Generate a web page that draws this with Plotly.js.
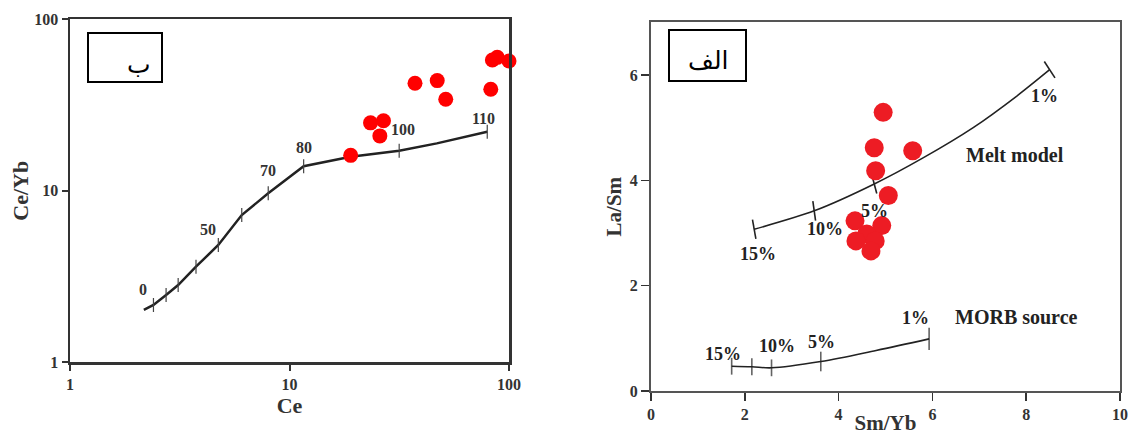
<!DOCTYPE html>
<html>
<head>
<meta charset="utf-8">
<script src="https://cdn.plot.ly/plotly-3.0.1.min.js"></script>
<style>html,body{margin:0;padding:0;background:#fff;}#chart{width:1130px;height:435px;}</style>
</head>
<body>
<div id="chart"></div>
<script>
// ---------- Left panel (ب): Ce vs Ce/Yb (log-log) ----------
const ceSamples   = [19.0, 23.4, 26.8, 25.8, 37.3, 47.1, 51.5, 82.6, 84.0, 88.4, 100];
const ceYbSamples = [16.1, 24.9, 25.6, 20.9, 42.4, 43.9, 34.2, 39.1, 57.9, 60.0, 57.1];

const ceModel   = [2.17, 2.40, 2.74, 3.11, 3.75, 4.74, 6.06, 8.0, 11.6, 19.0, 31.6, 46.9, 79.6];
const ceYbModel = [2.02, 2.16, 2.47, 2.82, 3.61, 4.83, 7.22, 9.67, 13.9, 15.8, 17.1, 18.9, 22.1];

const ceModelTicksX = [2.40, 2.74, 3.11, 3.75, 4.74, 6.06, 8.0, 11.6, 31.6, 79.6];
const ceModelTicksY = [2.16, 2.47, 2.82, 3.61, 4.83, 7.22, 9.67, 13.9, 17.1, 22.1];

const ceLabelText = ["0", "50", "70", "80", "100", "110"];
const ceLabelX    = [2.14, 4.27, 8.0, 11.6, 32.8, 76.4];
const ceLabelY    = [2.64, 5.91, 13.2, 17.9, 22.9, 26.5];

const leftTicks = [1, 10, 100];

// ---------- Right panel (الف): Sm/Yb vs La/Sm ----------
const smYbSamples = [4.95, 4.76, 5.58, 4.79, 5.06, 4.35, 4.92, 4.60, 4.37, 4.78, 4.69];
const laSmSamples = [5.29, 4.62, 4.56, 4.18, 3.71, 3.23, 3.14, 2.98, 2.85, 2.85, 2.66];

const meltX = [2.20, 3.48, 4.76, 5.81, 6.87, 7.80, 8.50];
const meltY = [3.07, 3.42, 3.93, 4.43, 5.00, 5.60, 6.10];
const meltTickX = [2.20, 3.48, 4.76, 8.50];
const meltTickY = [3.07, 3.42, 3.93, 6.10];
const meltTickAngle = [-10, -8, -15, -33];
const meltLabelText = ["15%", "10%", "5%", "1%"];
const meltLabelX = [2.29, 3.71, 4.76, 8.38];
const meltLabelY = [2.61, 3.07, 3.42, 5.60];

const morbX = [1.72, 2.15, 2.57, 3.62, 4.80, 5.93];
const morbY = [0.47, 0.46, 0.44, 0.56, 0.77, 0.99];
const morbTickX = [1.72, 2.15, 2.57, 3.62, 5.93];
const morbTickY = [0.47, 0.46, 0.44, 0.56, 0.99];
const morbTickSize = [12, 12, 12, 14, 16];
const morbLabelText = ["15%", "10%", "5%", "1%"];
const morbLabelX = [1.54, 2.68, 3.64, 5.63];
const morbLabelY = [0.70, 0.86, 0.93, 1.38];

const rightXTicks = [0, 2, 4, 6, 8, 10];
const rightYTicks = [0, 2, 4, 6];

const SERIF = "Liberation Serif, Times New Roman, serif";
const DARK = "#222";

const traces = [
  {x: ceModel, y: ceYbModel, xaxis: "x", yaxis: "y", mode: "lines",
   line: {color: DARK, width: 2.5}, hoverinfo: "skip", showlegend: false},
  {x: ceModelTicksX, y: ceModelTicksY, xaxis: "x", yaxis: "y", mode: "markers",
   marker: {symbol: "line-ns", size: 10, line: {color: "#444", width: 1.2}},
   hoverinfo: "skip", showlegend: false},
  {x: ceSamples, y: ceYbSamples, xaxis: "x", yaxis: "y", mode: "markers",
   marker: {color: "#ff0000", size: 15}, cliponaxis: false, showlegend: false},
  {x: meltX, y: meltY, xaxis: "x2", yaxis: "y2", mode: "lines",
   line: {color: DARK, width: 1.6, shape: "spline", smoothing: 0.8}, hoverinfo: "skip", showlegend: false},
  {x: meltTickX, y: meltTickY, xaxis: "x2", yaxis: "y2", mode: "markers",
   marker: {symbol: "line-ns", size: 14, angle: meltTickAngle, line: {color: DARK, width: 1.6}},
   hoverinfo: "skip", showlegend: false},
  {x: morbX, y: morbY, xaxis: "x2", yaxis: "y2", mode: "lines",
   line: {color: DARK, width: 1.6, shape: "spline"}, hoverinfo: "skip", showlegend: false},
  {x: morbTickX, y: morbTickY, xaxis: "x2", yaxis: "y2", mode: "markers",
   marker: {symbol: "line-ns", size: morbTickSize, line: {color: DARK, width: 1.6}},
   hoverinfo: "skip", showlegend: false},
  {x: smYbSamples, y: laSmSamples, xaxis: "x2", yaxis: "y2", mode: "markers",
   marker: {color: "#ed1c24", size: 19}, showlegend: false}
];

const W = 1130, H = 435;
const px = v => v / W, py = v => 1 - v / H;

const annotations = [];
ceLabelText.forEach((t, i) => annotations.push({
  xref: "x", yref: "y", x: Math.log10(ceLabelX[i]), y: Math.log10(ceLabelY[i]),
  text: "<b>" + t + "</b>", showarrow: false,
  font: {family: SERIF, size: 16, color: "#333"}
}));
meltLabelText.forEach((t, i) => annotations.push({
  xref: "x2", yref: "y2", x: meltLabelX[i], y: meltLabelY[i],
  text: "<b>" + t + "</b>", showarrow: false,
  font: {family: SERIF, size: 18, color: DARK}
}));
morbLabelText.forEach((t, i) => annotations.push({
  xref: "x2", yref: "y2", x: morbLabelX[i], y: morbLabelY[i],
  text: "<b>" + t + "</b>", showarrow: false,
  font: {family: SERIF, size: 18, color: DARK}
}));
annotations.push({xref: "x2", yref: "y2", x: 7.76, y: 4.48, text: "<b>Melt model</b>",
  showarrow: false, font: {family: SERIF, size: 20, color: DARK}});
annotations.push({xref: "x2", yref: "y2", x: 7.80, y: 1.40, text: "<b>MORB source</b>",
  showarrow: false, font: {family: SERIF, size: 20, color: DARK}});
annotations.push({xref: "paper", yref: "paper", x: px(125), y: py(48), text: "ب",
  showarrow: false, font: {family: "DejaVu Sans, Noto Sans, sans-serif", size: 25, color: "#000"}});
annotations.push({xref: "paper", yref: "paper", x: px(708), y: py(44), text: "الف",
  showarrow: false, font: {family: "DejaVu Sans, Noto Sans, sans-serif", size: 25, color: "#000"}});

const shapes = [
  {type: "rect", xref: "paper", yref: "paper", x0: px(88), x1: px(162), y0: py(82), y1: py(33),
   line: {color: "#000", width: 2}},
  {type: "rect", xref: "paper", yref: "paper", x0: px(669), x1: px(746), y0: py(81), y1: py(30),
   line: {color: "#000", width: 2}}
];

const tickFont = {family: SERIF, size: 16, color: "#333"};
const titleFont = {family: SERIF, size: 22, color: "#333"};

const layout = {
  width: W, height: H,
  margin: {l: 0, r: 0, t: 0, b: 0},
  paper_bgcolor: "#fff", plot_bgcolor: "#fff",
  showlegend: false,
  xaxis: {domain: [px(70), px(509)], type: "log", range: [0, 2],
    tickvals: leftTicks, ticktext: leftTicks.map(v => "<b>" + v + "</b>"),
    ticks: "outside", ticklen: 6, tickwidth: 2, tickcolor: "#333",
    showline: true, linewidth: 2.5, linecolor: "#333", mirror: true,
    showgrid: false, zeroline: false, tickfont: tickFont,
    title: {text: "<b>Ce</b>", font: titleFont, standoff: 4}, anchor: "y"},
  yaxis: {domain: [1 - 362.3 / H, 1 - 19.3 / H], type: "log", range: [0, 2],
    tickvals: leftTicks, ticktext: leftTicks.map(v => "<b>" + v + "</b>"),
    ticks: "outside", ticklen: 6, tickwidth: 2, tickcolor: "#333",
    showline: true, linewidth: 2.5, linecolor: "#333", mirror: true,
    showgrid: false, zeroline: false, tickfont: tickFont,
    title: {text: "<b>Ce/Yb</b>", font: titleFont, standoff: 0}, anchor: "x"},
  xaxis2: {domain: [px(651), px(1120)], range: [0, 10],
    tickvals: rightXTicks, ticktext: rightXTicks.map(v => "<b>" + v + "</b>"),
    ticks: "outside", ticklen: 8, tickwidth: 1.5, tickcolor: "#333",
    showline: true, linewidth: 2, linecolor: "#555", mirror: true,
    showgrid: false, zeroline: false, tickfont: tickFont,
    title: {text: "<b>Sm/Yb</b>", font: {family: SERIF, size: 21, color: "#333"}, standoff: 2}, anchor: "y2"},
  yaxis2: {domain: [1 - 391 / H, 1 - 22.3 / H], range: [0, 7],
    tickvals: rightYTicks, ticktext: rightYTicks.map(v => "<b>" + v + "</b>"),
    ticks: "outside", ticklen: 8, tickwidth: 1.5, tickcolor: "#333",
    showline: true, linewidth: 2, linecolor: "#555", mirror: true,
    showgrid: false, zeroline: false, tickfont: tickFont,
    title: {text: "<b>La/Sm</b>", font: {family: SERIF, size: 21, color: "#333"}, standoff: 2}, anchor: "x2"},
  annotations: annotations,
  shapes: shapes
};

Plotly.newPlot("chart", traces, layout, {displayModeBar: false, staticPlot: true});
</script>
</body>
</html>
